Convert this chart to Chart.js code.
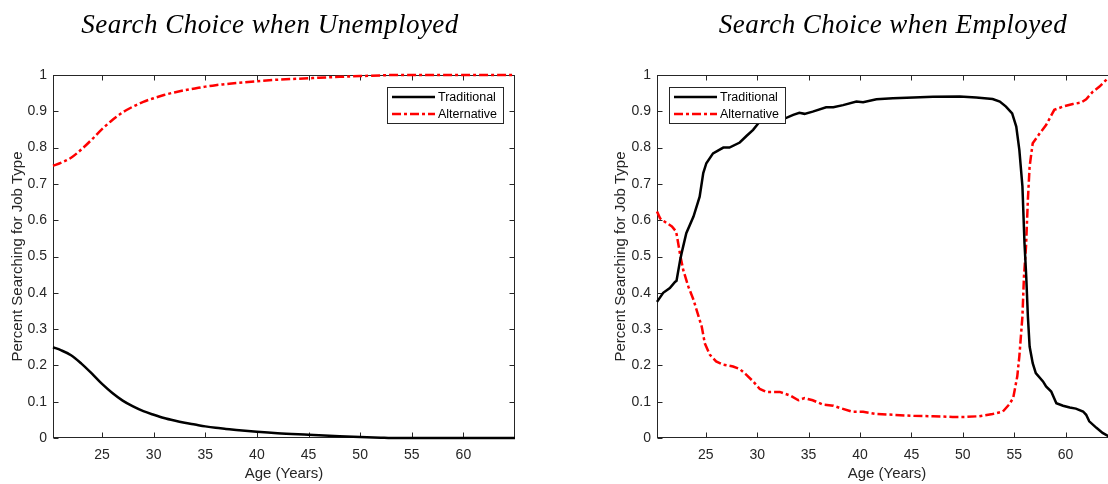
<!DOCTYPE html>
<html>
<head>
<meta charset="utf-8">
<script src="https://cdn.jsdelivr.net/npm/chart.js@4.4.0/dist/chart.umd.min.js"></script>
<style>
  html, body { margin: 0; padding: 0; background: #fff; overflow: hidden; width: 1108px; height: 484px; }
  .panel { position: absolute; top: 0; width: 560px; height: 484px; }
</style>
</head>
<body>
<div class="panel" style="left:0"><canvas id="unempChart"></canvas></div>
<div class="panel" style="left:600px"><canvas id="empChart"></canvas></div>
<script>
// tick labels
const xTicks = [25, 30, 35, 40, 45, 50, 55, 60];
const yTicks = [0, 0.1, 0.2, 0.3, 0.4, 0.5, 0.6, 0.7, 0.8, 0.9, 1];
const yTickLabels = ['0', '0.1', '0.2', '0.3', '0.4', '0.5', '0.6', '0.7', '0.8', '0.9', '1'];

// search choice when unemployed
const unempAges = [20.25, 21, 22, 23, 24, 25, 26, 27, 28, 29, 30, 31, 32, 33, 34, 35, 36, 37, 38, 40, 42, 45, 48, 50, 52, 53, 55, 60, 65];
const unempTraditional = [0.25, 0.242, 0.228, 0.205, 0.178, 0.149, 0.124, 0.103, 0.087, 0.074, 0.064, 0.055, 0.048, 0.042, 0.037, 0.032, 0.028, 0.025, 0.022, 0.017, 0.013, 0.009, 0.005, 0.003, 0.001, 0, 0, 0, 0];
const unempAlternative = [0.75, 0.758, 0.772, 0.795, 0.822, 0.851, 0.876, 0.897, 0.913, 0.926, 0.936, 0.945, 0.952, 0.958, 0.963, 0.968, 0.972, 0.975, 0.978, 0.983, 0.987, 0.991, 0.995, 0.997, 0.999, 1, 1, 1, 1];

// search choice when employed
const empTradAges = [20.25, 20.85, 21.5, 22.0, 22.15, 22.5, 22.65, 23.1, 23.8, 24.4, 24.75, 25.05, 25.7, 26.7, 27.3, 28.3, 28.95, 29.6, 30.25, 30.9, 32.5, 33.5, 34.1, 34.6, 35.4, 36.7, 37.4, 38.35, 39.65, 40.3, 41.6, 43.2, 45.2, 47.1, 49.7, 51.3, 52.9, 53.6, 54.2, 54.8, 55.2, 55.5, 55.8, 56.0, 56.17, 56.33, 56.5, 56.8, 57.1, 57.8, 58.1, 58.6, 59.1, 59.75, 60.4, 61.0, 61.7, 62.0, 62.3, 63.0, 63.6, 64.1, 65];
const empTraditional = [0.375, 0.40, 0.413, 0.43, 0.433, 0.49, 0.51, 0.564, 0.61, 0.665, 0.73, 0.757, 0.784, 0.80, 0.80, 0.814, 0.832, 0.849, 0.872, 0.878, 0.878, 0.89, 0.896, 0.893, 0.899, 0.911, 0.911, 0.917, 0.927, 0.925, 0.933, 0.936, 0.938, 0.94, 0.941, 0.938, 0.934, 0.927, 0.913, 0.894, 0.858, 0.794, 0.693, 0.537, 0.445, 0.335, 0.252, 0.206, 0.179, 0.156, 0.142, 0.128, 0.096, 0.089, 0.084, 0.081, 0.073, 0.064, 0.046, 0.028, 0.014, 0.006, 0.0];
const empAltAges = [20.25, 20.55, 21.2, 21.7, 22.1, 22.2, 22.5, 22.8, 23.3, 23.8, 24.25, 24.6, 24.9, 25.4, 26.0, 26.7, 27.65, 28.3, 28.95, 29.6, 30.25, 30.9, 32.2, 33.2, 34.0, 34.6, 35.4, 36.4, 37.4, 38.0, 39.3, 40.3, 41.6, 43.2, 45.2, 47.1, 49.0, 50.3, 51.6, 52.9, 53.9, 54.5, 54.9, 55.3, 55.5, 55.8, 55.95, 56.15, 56.33, 56.5, 56.8, 57.5, 58.1, 58.9, 59.75, 60.7, 61.5, 62.0, 62.65, 63.3, 64.1, 65];
const empAlternative = [0.624, 0.605, 0.592, 0.583, 0.569, 0.555, 0.505, 0.463, 0.417, 0.381, 0.339, 0.307, 0.261, 0.229, 0.211, 0.202, 0.197, 0.19, 0.174, 0.156, 0.135, 0.127, 0.127, 0.117, 0.104, 0.11, 0.104, 0.092, 0.089, 0.083, 0.072, 0.072, 0.066, 0.064, 0.061, 0.06, 0.058, 0.058, 0.06, 0.066, 0.073, 0.092, 0.11, 0.17, 0.225, 0.335, 0.445, 0.528, 0.656, 0.748, 0.812, 0.84, 0.862, 0.904, 0.913, 0.92, 0.924, 0.933, 0.954, 0.968, 0.991, 1.0];

const axisColor = '#262626';
const sans = '"Liberation Sans", Arial, sans-serif';

const toPoints = (xs, ys) => xs.map((x, i) => ({ x: x, y: ys[i] }));

// MATLAB-like box with inward ticks, drawn under the lines
const axesBox = {
  id: 'axesBox',
  beforeDatasetsDraw(chart) {
    const { ctx, chartArea: a, scales } = chart;
    const l = Math.round(a.left) + 0.5, r = Math.round(a.right) - 0.5;
    const t = Math.round(a.top) + 0.5, b = Math.round(a.bottom) - 0.5;
    ctx.save();
    ctx.strokeStyle = axisColor;
    ctx.lineWidth = 1;
    ctx.strokeRect(l, t, r - l, b - t);
    ctx.beginPath();
    scales.x.ticks.forEach(tk => {
      const px = Math.round(scales.x.getPixelForValue(tk.value)) + 0.5;
      ctx.moveTo(px, b); ctx.lineTo(px, b - 5);
      ctx.moveTo(px, t); ctx.lineTo(px, t + 5);
    });
    scales.y.ticks.forEach(tk => {
      const py = Math.round(scales.y.getPixelForValue(tk.value)) + 0.5;
      ctx.moveTo(l, py); ctx.lineTo(l + 5, py);
      ctx.moveTo(r, py); ctx.lineTo(r - 5, py);
    });
    ctx.stroke();
    ctx.restore();
  }
};

// boxed legend inside the axes, drawn over the lines
const boxLegend = {
  id: 'boxLegend',
  afterDatasetsDraw(chart, args, opts) {
    const { ctx, chartArea: a } = chart;
    const w = 116, h = 36;
    const x = opts.corner === 'right' ? Math.round(a.right) - 12 - w : Math.round(a.left) + 12;
    const y = Math.round(a.top) + 12;
    ctx.save();
    ctx.fillStyle = '#fff';
    ctx.fillRect(x, y, w, h);
    ctx.strokeStyle = axisColor;
    ctx.lineWidth = 1;
    ctx.strokeRect(x + 0.5, y + 0.5, w, h);
    ctx.font = '12.5px ' + sans;
    ctx.textBaseline = 'middle';
    chart.data.datasets.forEach((ds, i) => {
      const cy = y + 10 + i * 17;
      ctx.beginPath();
      ctx.strokeStyle = ds.borderColor;
      ctx.lineWidth = ds.borderWidth;
      ctx.setLineDash(ds.borderDash || []);
      ctx.moveTo(x + 5, cy);
      ctx.lineTo(x + 48, cy);
      ctx.stroke();
      ctx.setLineDash([]);
      ctx.fillStyle = '#000';
      ctx.fillText(ds.label, x + 51, cy + 1);
    });
    ctx.restore();
  }
};

// italic serif panel title
const panelTitle = {
  id: 'panelTitle',
  afterDraw(chart, args, opts) {
    const ctx = chart.ctx;
    ctx.save();
    ctx.font = 'italic 27px "Liberation Serif", "Times New Roman", serif';
    const w0 = ctx.measureText(opts.text).width;
    ctx.letterSpacing = ((opts.width - w0) / (opts.text.length - 1)).toFixed(2) + 'px';
    ctx.fillStyle = '#000';
    ctx.textAlign = 'center';
    ctx.textBaseline = 'alphabetic';
    ctx.fillText(opts.text, opts.cx, 33);
    ctx.restore();
  }
};

function makeChart(id, title, titleCx, titleWidth, legendCorner, yAxisWidth, yTitlePad, rightPad, datasets) {
  return new Chart(document.getElementById(id), {
    type: 'line',
    data: { datasets: datasets },
    options: {
      responsive: true,
      maintainAspectRatio: false,
      animation: false,
      layout: { padding: { top: 75, right: rightPad, bottom: 0, left: 0 } },
      elements: { point: { radius: 0 } },
      scales: {
        x: {
          type: 'linear',
          min: 20.25,
          max: 65,
          afterBuildTicks: s => { s.ticks = xTicks.map(v => ({ value: v })); },
          afterFit: s => { s.height = 46; },
          grid: { display: false, drawTicks: false },
          border: { display: false },
          ticks: { color: axisColor, font: { family: sans, size: 14 }, padding: 9, maxRotation: 0, callback: v => String(v) },
          title: { display: true, text: 'Age (Years)', color: axisColor, font: { family: sans, size: 15 }, padding: { top: 0, bottom: 1 } }
        },
        y: {
          min: 0,
          max: 1,
          afterBuildTicks: s => { s.ticks = yTicks.map(v => ({ value: v })); },
          afterFit: s => { s.width = yAxisWidth; },
          grid: { display: false, drawTicks: false },
          border: { display: false },
          ticks: { color: axisColor, font: { family: sans, size: 14 }, padding: 6, callback: (v, i) => yTickLabels[i] },
          title: { display: true, text: 'Percent Searching for Job Type', color: axisColor, font: { family: sans, size: 15 }, padding: { top: yTitlePad, bottom: 0 } }
        }
      },
      plugins: {
        legend: { display: false },
        tooltip: { enabled: false },
        boxLegend: { corner: legendCorner },
        panelTitle: { text: title, cx: titleCx, width: titleWidth }
      }
    },
    plugins: [axesBox, boxLegend, panelTitle]
  });
}

const tradStyle = { borderColor: '#000000', borderWidth: 2.5, fill: false, clip: false };
const altStyle = { borderColor: '#ff0000', borderWidth: 2.5, borderDash: [9, 3, 3, 3], fill: false, clip: false };

makeChart('unempChart', 'Search Choice when Unemployed', 270, 377, 'right', 53, 9, 45, [
  Object.assign({ label: 'Traditional', data: toPoints(unempAges, unempTraditional), cubicInterpolationMode: 'monotone' }, tradStyle),
  Object.assign({ label: 'Alternative', data: toPoints(unempAges, unempAlternative), cubicInterpolationMode: 'monotone' }, altStyle)
]);

makeChart('empChart', 'Search Choice when Employed', 293, 348, 'left', 57, 12, 43, [
  Object.assign({ label: 'Traditional', data: toPoints(empTradAges, empTraditional), tension: 0 }, tradStyle),
  Object.assign({ label: 'Alternative', data: toPoints(empAltAges, empAlternative), tension: 0 }, altStyle)
]);
</script>
</body>
</html>
